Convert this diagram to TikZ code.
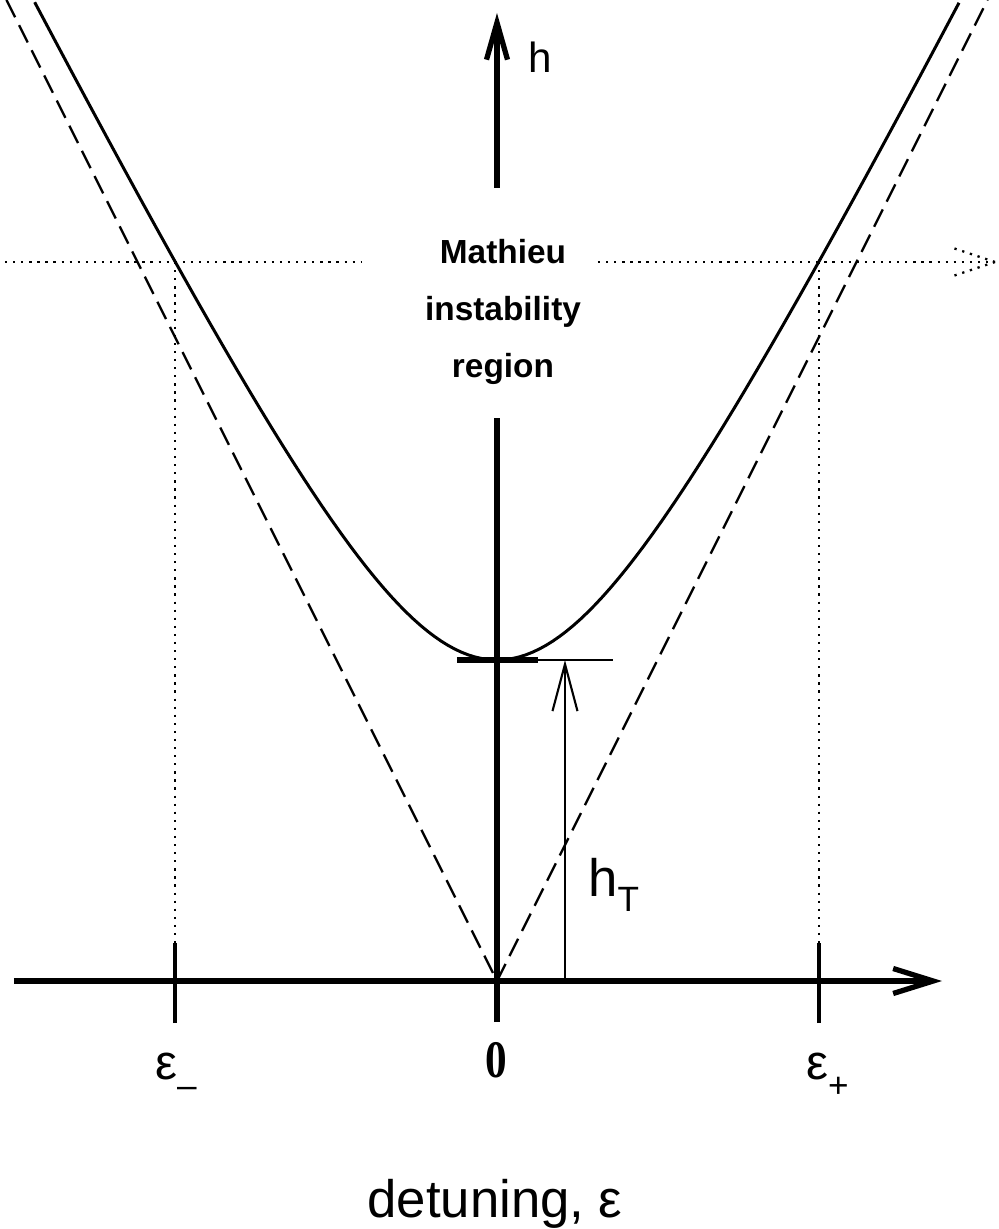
\documentclass[tikz,border=0pt]{standalone}
\usepackage{fontspec}
\setmainfont{Liberation Sans}
\newfontfamily\zerofont{Liberation Serif}
\usetikzlibrary{arrows.meta}

\newcommand{\lowsub}[2]{\raisebox{-#1}{\fontsize{20}{20}\selectfont #2}}

\begin{document}
\begin{tikzpicture}[
  axis/.style={line width=3pt},
  curve/.style={line width=1.7pt},
  asym/.style={line width=1.3pt, dash pattern=on 11pt off 5pt},
  guide/.style={line width=1.3pt, dash pattern=on 1.3pt off 3.3pt},
  lab/.style={font=\fontsize{28}{28}\selectfont, inner sep=0pt},
]
\useasboundingbox (-9.94,-4.96) rectangle (10.02,19.62);

% Points
\coordinate (O) at (0,0);
\coordinate (xl) at (-9.66,0);
\coordinate (xr) at (8.9,0);
\coordinate (em) at (-6.44,14.38);
\coordinate (ep) at (6.44,14.38);
\coordinate (hT) at (1.36,6.42);

% Axes
\draw[axis, -{Straight Barb[length=0.8cm, width=0.5cm]}] (xl) -- (xr);
\draw[axis] (0,-0.82) -- (0,11.26);
\draw[axis, -{Straight Barb[length=0.74cm, width=0.42cm]}] (0,15.86) -- (0,19.36);
\draw[line width=2.4pt] (-6.44,-0.84) -- (-6.44,0.76);
\draw[line width=2.4pt] (6.44,-0.84) -- (6.44,0.76);

% Asymptotes and boundary
\draw[asym] (-9.81,19.62) -- (O) -- (9.81,19.62);
\draw[curve] plot[domain=-1.78:1.78, samples=90, variable=\t]
  ({3.21*sinh(\t)}, {6.42*cosh(\t)});

% Threshold h_T
\draw[line width=3.4pt] (-0.8,6.42) -- (0.82,6.42);
\draw[curve] (0.82,6.42) -- (2.32,6.42);
\draw[line width=1.2pt, -{Straight Barb[length=0.94cm, width=0.5cm]}] (O -| hT) -- (hT);

% Dotted guides
\draw[guide] (-9.84,14.38) -- (-2.7,14.38);
\draw[guide] (2.02,14.38) -- (9.96,14.38);
\draw[guide] (9.96,14.38) -- ++(-0.84,0.28) (9.96,14.38) -- ++(-0.84,-0.28);
\draw[guide] (em) -- (-6.44,0.76);
\draw[guide] (ep) -- (6.44,0.76);

% Labels
\node[align=center, font=\bfseries\fontsize{19}{32.4}\selectfont] (region) at (0.12,13.38) {Mathieu\\instability\\region};
\node[anchor=base west, inner sep=0pt, font=\fontsize{24}{24}\selectfont] (hlab) at (0.62,18.16) {h};
\node[anchor=base west, inner sep=0pt, font=\fontsize{30}{30}\selectfont] (hTlab) at (1.82,1.7) {h\lowsub{0.3em}{T}};
\node[lab, anchor=base] (lem) at (-6.42,-1.96) {ε\lowsub{0.38em}{–}};
\node[lab, anchor=base, font=\zerofont\bfseries\fontsize{30}{30}\selectfont] (lzero) at (-0.02,-1.92) {\scalebox{0.82}[1]{0}};
\node[lab, anchor=base] (lep) at (6.61,-1.96) {ε\lowsub{0.38em}{+}};
\node[anchor=base, inner sep=0pt, font=\fontsize{30}{30}\selectfont] (xlab) at (-0.04,-4.72) {detuning, ε};
\end{tikzpicture}
\end{document}
